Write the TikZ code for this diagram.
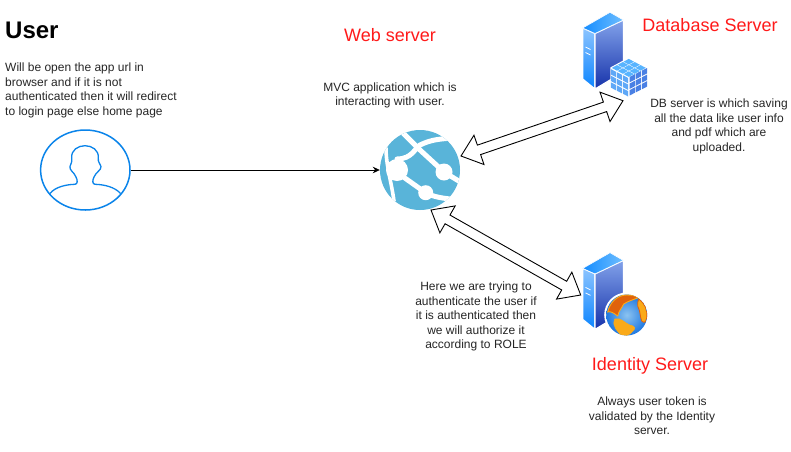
\documentclass[tikz,border=0pt]{standalone}
\usepackage{fontspec}
\setmainfont{Liberation Sans}
\usetikzlibrary{calc,arrows.meta,shapes.geometric}
\definecolor{titlered}{HTML}{FF1A1A}
\definecolor{userblue}{HTML}{0A84EA}
\definecolor{webblue}{HTML}{59B4D9}
\definecolor{srvLtop}{HTML}{8CC4FF}
\definecolor{srvLbot}{HTML}{0A84FF}
\definecolor{srvRtop}{HTML}{82A2EA}
\definecolor{srvRbot}{HTML}{1632AA}
\definecolor{srvTleft}{HTML}{148CFF}
\definecolor{srvTright}{HTML}{6EBEFF}
\definecolor{globeIn}{HTML}{8CC3F0}
\definecolor{globeOut}{HTML}{1E78E1}
\definecolor{landRed}{HTML}{E0620C}
\definecolor{landYel}{HTML}{FAAA19}
\definecolor{tileTop}{HTML}{58B4FF}
\definecolor{tileL}{HTML}{5FA8F7}
\definecolor{tileR}{HTML}{4A80E4}
\tikzset{
  body/.style={font=\fontsize{12}{14.5}\selectfont,align=center,text=black!85,inner sep=0pt},
  title/.style={font=\fontsize{18}{21}\selectfont,text=titlered,inner sep=0pt},
  hollow/.style={draw=black,fill=white,line width=0.9pt,line join=miter},
  whiteband/.style={draw=white,line width=5pt,line cap=round},
  serverpic/.pic={
    \shade[bottom color=srvLbot,top color=srvLtop,draw=white,line width=1.2pt,line join=round]
      (582.7,28) -- (595,33.5) -- (595,89) -- (582.7,79) -- cycle;
    \shade[bottom color=srvRbot,top color=srvRtop,draw=white,line width=1.2pt,line join=round]
      (595,33.5) -- (623.4,20) -- (623.4,72) -- (595,89) -- cycle;
    \shade[left color=srvTleft,right color=srvTright,draw=white,line width=.6pt,line join=round]
      (582.7,28) -- (610,12.3) -- (623.4,20) -- (595,33.5) -- cycle;
    \draw[white,line width=.8pt] (585.5,47) -- (590.5,49.5) (585.5,52.5) -- (590.5,55);
  }
}
\newcommand{\hollowarrow}[2]{%
  \draw[hollow]
    (#1)
    -- ($($(#1)!19pt!(#2)$)!15.5pt!90:(#2)$)
    -- ($($(#1)!19pt!(#2)$)!5pt!90:(#2)$)
    -- ($($(#2)!19pt!(#1)$)!5pt!-90:(#1)$)
    -- ($($(#2)!19pt!(#1)$)!15.5pt!-90:(#1)$)
    -- (#2)
    -- ($($(#2)!19pt!(#1)$)!15.5pt!90:(#1)$)
    -- ($($(#2)!19pt!(#1)$)!5pt!90:(#1)$)
    -- ($($(#1)!19pt!(#2)$)!5pt!-90:(#2)$)
    -- ($($(#1)!19pt!(#2)$)!15.5pt!-90:(#2)$)
    -- cycle;}
\begin{document}
\begin{tikzpicture}[x=1pt,y=-1pt]
\useasboundingbox (0,0) rectangle (791,451);
\fill[white] (0,0) rectangle (791,451);

% ---------- user icon
\node[draw=userblue,line width=1.5pt,ellipse,minimum width=89.4pt,minimum height=80pt,inner sep=0pt] (user) at (85.3,170) {};
\draw[userblue,line width=1.3pt,line join=round]
  (50,193.5) .. controls (55,187) and (66,184.5) .. (75,184.3)
  .. controls (78,184) and (77.5,180) .. (76,177)
  .. controls (74,172) and (69,170) .. (70,166.5)
  .. controls (70.5,163) and (72.5,163) .. (71.7,158)
  .. controls (71,150) and (78,145.7) .. (85,145.7)
  .. controls (92,145.7) and (99,150) .. (98.3,158)
  .. controls (97.7,163) and (100.5,163) .. (101,166.5)
  .. controls (101.5,170) and (96,172) .. (94,177)
  .. controls (92.5,180) and (92,184) .. (95,184.3)
  .. controls (104,184.5) and (115,187) .. (120.5,193.5);

% ---------- web icon
\node[circle,fill=webblue,minimum size=80pt,inner sep=0pt] (web) at (420,170) {};
\begin{scope}
  \clip (420,170) circle (40);
  \begin{scope}[shift={(420,170)}]
    \draw[whiteband] (-18,-38) -- (0,-20) -- (24,2) -- (42,13);
    \draw[whiteband] (-23,-11) .. controls (-8,-11) and (-5,-22) .. (0,-25) .. controls (12,-31) and (22,-31) .. (32,-32);
    \draw[whiteband,line width=3.6pt] (-34,-22) .. controls (-34,-5) and (-29,10) .. (-26,31);
    \draw[whiteband] (-18,6) -- (6,23) .. controls (14,27) and (22,28) .. (30,29);
    \fill[white] (-23,0) circle (11);
    \fill[white] (24,2) circle (8.5);
    \fill[white] (5.7,22.7) circle (7.5);
  \end{scope}
\end{scope}

% ---------- database server icon
\pic {serverpic};
\begin{scope}[shift={(628.8,77.5)}]
  \fill[white] (-18.5,-10) -- (0,-20) -- (18.5,-10) -- (18.5,10.5) -- (0,21) -- (-18.5,10.5) -- cycle;
  \foreach \i in {0,1,2}{
    \foreach \j in {0,1,2}{
      \fill[tileTop,shift={({(\i-\j)*5.9},{(\i+\j)*3.1-18.6})}]
        (0,0) -- (5.2,2.8) -- (0,5.6) -- (-5.2,2.8) -- cycle;
      \fill[tileL,shift={({-18+\i*6.1},{-8.4+\i*3.1+\j*6.6})}]
        (0,0) -- (5.2,2.7) -- (5.2,8) -- (0,5.3) -- cycle;
      \fill[tileR,shift={({0.8+\i*6.1},{-.6-\i*3.1+\j*6.6})}]
        (0,0) -- (5.2,-2.7) -- (5.2,2.7) -- (0,5.4) -- cycle;
    }
  }
\end{scope}

% ---------- identity server icon
\begin{scope}[shift={(0,240.4)}]
  \pic {serverpic};
\end{scope}
\node[circle,fill=white,minimum size=45pt,inner sep=0pt] (ident) at (626.7,315) {};
\begin{scope}[shift={(626.7,315)}]
  \shade[inner color=globeIn,outer color=globeOut] (0,0) circle (20.5);
  \clip (0,0) circle (20.5);
  \fill[landRed,draw=landYel,line width=.9pt]
    (-19,-3) .. controls (-17,-12) and (-10,-20) .. (0,-20) .. controls (6,-20) and (10,-19) .. (11,-17)
    .. controls (5,-15) and (0,-13) .. (-3,-11) .. controls (-5,-7) and (-8,-4) .. (-9,1)
    .. controls (-13,-2) and (-16,-4) .. (-19,-3) -- cycle;
  \fill[landYel,draw=landYel,line width=.5pt]
    (-12,4) .. controls (-6,2) and (-2,8) .. (3,10) .. controls (9,11) and (9,14) .. (6,16)
    .. controls (4,19) and (1,21) .. (-5,21) .. controls (-9,16) and (-15,12) .. (-12,4) -- cycle;
  \fill[landYel,draw=landRed,line width=.8pt]
    (12,-16) .. controls (18,-12) and (21,-5) .. (20,3) .. controls (19,8) and (17,8) .. (15,6)
    .. controls (13,1) and (14,-3) .. (11,-9) .. controls (11,-12) and (11,-14) .. (12,-16) -- cycle;
\end{scope}

% ---------- connectors
\draw[-{Stealth[length=7pt,width=6.5pt]},line width=.8pt,black] (user.east) -- (web.west);
\coordinate (dbL) at (461,156);
\coordinate (dbR) at (623,100.7);
\coordinate (idL) at (431,210);
\coordinate (idR) at (580.7,295);
\hollowarrow{dbL}{dbR}
\hollowarrow{idL}{idR}

% ---------- texts
\node[anchor=base west,font=\bfseries\fontsize{24}{28}\selectfont,inner sep=0pt] (usertitle) at (5,38) {User};
\node[body,anchor=north west,align=left] (usertext) at (5,63) {Will be open the app url in\\browser and if it is not\\authenticated then it will redirect\\to login page else home page};
\node[title] (webtitle) at (390,35.5) {Web server};
\node[body] (webtext) at (390,95.5) {MVC application which is\\interacting with user.};
\node[title] (dbtitle) at (710,25) {Database Server};
\node[body] (dbtext) at (719,126.5) {DB server is which saving\\all the data like user info\\and pdf which are\\uploaded.};
\node[body] (idtext) at (476,316.5) {Here we are trying to\\authenticate the user if\\it is authenticated then\\we will authorize it\\according to ROLE};
\node[title] (idtitle) at (650,366) {Identity Server};
\node[body] (idnote) at (652,416) {Always user token is\\validated by the Identity\\server.};
\end{tikzpicture}
\end{document}
